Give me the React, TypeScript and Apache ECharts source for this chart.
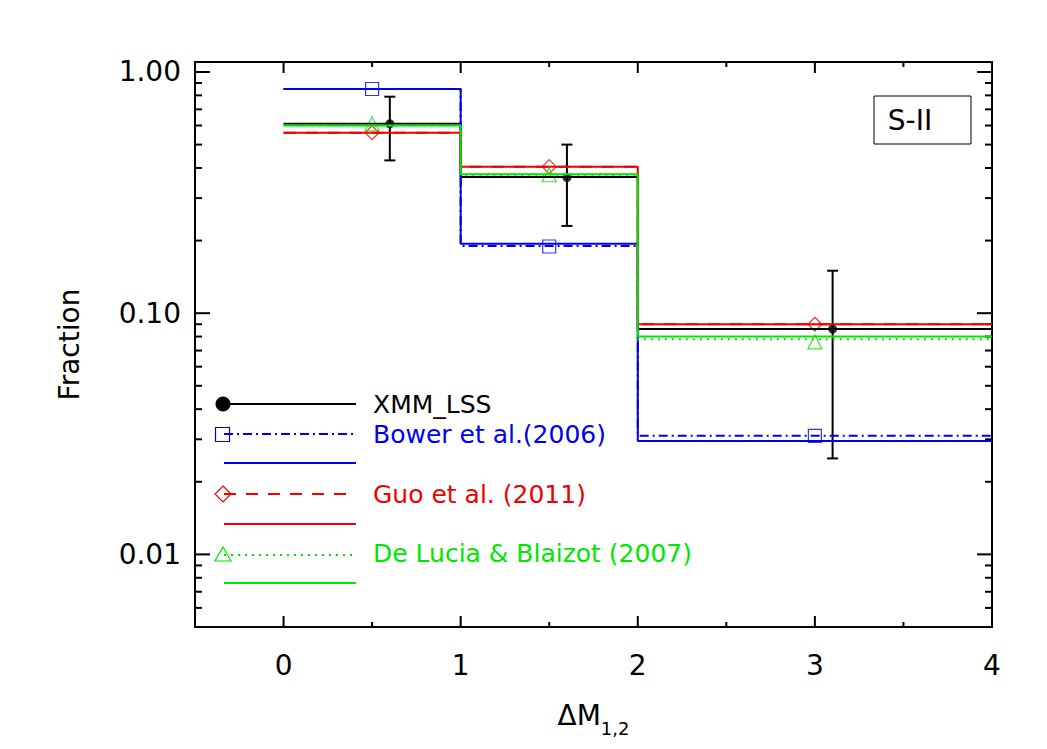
import React, { useEffect, useRef } from 'react';
import * as echarts from 'echarts';

const FONT = '"DejaVu Sans", "Liberation Sans", sans-serif';

// Bin edges of the histograms (ΔM_1,2)
const binEdges = [0, 1, 2, 4];

// Histogram fractions per bin
const xmmFraction = [0.61, 0.367, 0.086];
const bowerSolid = [0.85, 0.194, 0.0295];
const bowerDashDot = [0.85, 0.19, 0.031];
const guoSolid = [0.56, 0.405, 0.09];
const guoDashed = [0.56, 0.405, 0.09];
const deLuciaSolid = [0.6, 0.377, 0.08];
const deLuciaDotted = [0.6, 0.375, 0.078];

// Model symbols (bin centres)
const modelX = [0.5, 1.5, 3.0];
const bowerPoints = [0.85, 0.189, 0.031];
const guoPoints = [0.56, 0.405, 0.09];
const deLuciaPoints = [0.61, 0.375, 0.076];

// XMM-LSS data points with error bars
const xmmX = [0.6, 1.6, 3.1];
const xmmY = [0.61, 0.365, 0.086];
const xmmLow = [0.43, 0.23, 0.025];
const xmmHigh = [0.79, 0.5, 0.15];

// Axis ticks
const xTickLabels = [0, 1, 2, 3, 4];
const xMajorTicks = [0, 1, 2, 3];
const xMinorTicks = [0.5, 1.5, 2.5, 3.5];
const yTickLabels = [0.01, 0.1, 1];
const yMajorTicks = [0.01, 0.1, 1];
const yMinorTicks = [
  0.006, 0.007, 0.008, 0.009,
  0.02, 0.03, 0.04, 0.05, 0.06, 0.07, 0.08, 0.09,
  0.2, 0.3, 0.4, 0.5, 0.6, 0.7, 0.8, 0.9,
];

const BLACK = '#000000';
const BLUE = '#0000f0';
const RED = '#f00000';
const GREEN = '#00e600';

function stepData(values: number[]) {
  const pts = values.map((v, i) => [binEdges[i], v]);
  pts.push([binEdges[binEdges.length - 1], values[values.length - 1]]);
  return pts;
}

function stepSeries(values: number[], color: string, type: any) {
  return {
    type: 'line',
    step: 'end',
    data: stepData(values),
    showSymbol: false,
    silent: true,
    lineStyle: { color, width: 2, type },
    emphasis: { disabled: true },
  };
}

function xTickSeries(values: number[], len: number) {
  return {
    type: 'custom',
    silent: true,
    data: values.map((v) => [v, 0.1]),
    renderItem: (params: any, api: any) => {
      const cs = params.coordSys;
      const px = api.coord([api.value(0), 0.1])[0];
      const bottom = cs.y + cs.height;
      return {
        type: 'group',
        children: [
          { type: 'line', shape: { x1: px, y1: bottom, x2: px, y2: bottom - len }, style: { stroke: BLACK, lineWidth: 2 } },
          { type: 'line', shape: { x1: px, y1: cs.y, x2: px, y2: cs.y + len }, style: { stroke: BLACK, lineWidth: 2 } },
        ],
      };
    },
  };
}

function yTickSeries(values: number[], len: number) {
  return {
    type: 'custom',
    silent: true,
    data: values.map((v) => [1, v]),
    renderItem: (params: any, api: any) => {
      const cs = params.coordSys;
      const py = api.coord([1, api.value(1)])[1];
      const right = cs.x + cs.width;
      return {
        type: 'group',
        children: [
          { type: 'line', shape: { x1: cs.x, y1: py, x2: cs.x + len, y2: py }, style: { stroke: BLACK, lineWidth: 2 } },
          { type: 'line', shape: { x1: right, y1: py, x2: right - len, y2: py }, style: { stroke: BLACK, lineWidth: 2 } },
        ],
      };
    },
  };
}

function markerSeries(ys: number[], symbol: string, color: string, size: number) {
  return {
    type: 'scatter',
    silent: true,
    symbol,
    symbolSize: size,
    data: modelX.map((x, i) => [x, ys[i]]),
    itemStyle: { color: 'transparent', borderColor: color, borderWidth: 1.2 },
    emphasis: { disabled: true },
  };
}

const legendText = (x: number, y: number, text: string, color: string) => ({
  type: 'text',
  x,
  y,
  style: { text, fill: color, fontSize: 25, fontFamily: FONT, align: 'left', verticalAlign: 'middle' },
});

const hline = (x1: number, x2: number, y: number, color: string, lineDash?: number[]) => ({
  type: 'line',
  shape: { x1, y1: y, x2, y2: y },
  style: { stroke: color, lineWidth: 2, lineDash: lineDash || null },
});

export default function App() {
  const ref = useRef<HTMLDivElement>(null);

  useEffect(() => {
    const chart = echarts.init(ref.current!, null, { renderer: 'svg' });
    const option: any = {
      animation: false,
      backgroundColor: '#ffffff',
      grid: {
        left: 195,
        right: 55,
        top: 62,
        bottom: 122,
        show: true,
        borderColor: BLACK,
        borderWidth: 2,
        backgroundColor: 'transparent',
      },
      xAxis: {
        type: 'value',
        min: -0.5,
        max: 4,
        interval: 0.5,
        axisLine: { show: false },
        axisTick: { show: false },
        splitLine: { show: false },
        axisLabel: {
          margin: 24,
          fontSize: 28,
          fontFamily: FONT,
          color: BLACK,
          formatter: (v: number) => {
            const t = xTickLabels.find((k) => Math.abs(k - v) < 1e-9);
            return t === undefined ? '' : String(t);
          },
        },
        name: '{a|ΔM}{b|1,2}',
        nameLocation: 'middle',
        nameGap: 74,
        nameTextStyle: {
          color: BLACK,
          fontFamily: FONT,
          rich: {
            a: { fontSize: 28, fontFamily: FONT, color: BLACK, padding: [0, 0, 8, 0], verticalAlign: 'bottom' },
            b: { fontSize: 18, fontFamily: FONT, color: BLACK, verticalAlign: 'bottom' },
          },
        },
      },
      yAxis: {
        type: 'log',
        logBase: 10,
        min: 0.005,
        max: 1.1,
        axisLine: { show: false },
        axisTick: { show: false },
        splitLine: { show: false },
        minorTick: { show: false },
        axisLabel: {
          margin: 14,
          fontSize: 28,
          fontFamily: FONT,
          color: BLACK,
          formatter: (v: number) => {
            const t = yTickLabels.find((k) => Math.abs(v / k - 1) < 1e-6);
            return t === undefined ? '' : t.toFixed(2);
          },
        },
        name: 'Fraction',
        nameLocation: 'middle',
        nameGap: 112,
        nameTextStyle: { fontSize: 28, fontFamily: FONT, color: BLACK },
      },
      graphic: [
        // S-II label box
        {
          type: 'rect',
          shape: { x: 874, y: 96, width: 97, height: 48 },
          style: { fill: 'transparent', stroke: BLACK, lineWidth: 1 },
        },
        {
          type: 'text',
          x: 910,
          y: 120,
          style: { text: 'S-II', fill: BLACK, fontSize: 28, fontFamily: FONT, align: 'center', verticalAlign: 'middle' },
        },
        // Legend: XMM_LSS
        { type: 'circle', shape: { cx: 223, cy: 404, r: 7.5 }, style: { fill: BLACK } },
        hline(223, 356, 404, BLACK),
        legendText(373, 404, 'XMM_LSS', BLACK),
        // Legend: Bower
        { type: 'rect', shape: { x: 215.5, y: 427.5, width: 14, height: 14 }, style: { fill: 'transparent', stroke: BLUE, lineWidth: 1.2 } },
        hline(224, 356, 434, BLUE, [9, 4, 2, 4]),
        hline(224, 356, 463, BLUE),
        legendText(373, 434, 'Bower et al.(2006)', BLUE),
        // Legend: Guo
        {
          type: 'polygon',
          shape: { points: [[223, 486], [231, 494], [223, 502], [215, 494]] },
          style: { fill: 'transparent', stroke: RED, lineWidth: 1.2 },
        },
        hline(224, 350, 494, RED, [12, 10]),
        hline(224, 356, 524, RED),
        legendText(373, 494, 'Guo et al. (2011)', RED),
        // Legend: De Lucia
        {
          type: 'polygon',
          shape: { points: [[223, 547], [231, 561], [215, 561]] },
          style: { fill: 'transparent', stroke: GREEN, lineWidth: 1.2 },
        },
        hline(224, 356, 555, GREEN, [2, 5]),
        hline(224, 356, 583, GREEN),
        legendText(373, 553, 'De Lucia & Blaizot (2007)', GREEN),
      ],
      series: [
        xTickSeries(xMajorTicks, 11),
        xTickSeries(xMinorTicks, 5),
        yTickSeries(yMajorTicks, 15),
        yTickSeries(yMinorTicks, 7),
        stepSeries(xmmFraction, BLACK, 'solid'),
        stepSeries(bowerSolid, BLUE, 'solid'),
        stepSeries(bowerDashDot, BLUE, [9, 4, 2, 4]),
        stepSeries(guoSolid, RED, 'solid'),
        stepSeries(guoDashed, RED, [12, 10]),
        stepSeries(deLuciaSolid, GREEN, 'solid'),
        stepSeries(deLuciaDotted, GREEN, [2, 5]),
        markerSeries(bowerPoints, 'rect', BLUE, 13),
        markerSeries(guoPoints, 'diamond', RED, 14),
        markerSeries(deLuciaPoints, 'triangle', GREEN, 14),
        {
          type: 'custom',
          silent: true,
          data: xmmX.map((x, i) => [x, xmmLow[i], xmmHigh[i]]),
          encode: { x: 0, y: [1, 2] },
          renderItem: (params: any, api: any) => {
            const lo = api.coord([api.value(0), api.value(1)]);
            const hi = api.coord([api.value(0), api.value(2)]);
            const cap = 5.5;
            const st = { stroke: BLACK, lineWidth: 2 };
            return {
              type: 'group',
              children: [
                { type: 'line', shape: { x1: lo[0], y1: lo[1], x2: hi[0], y2: hi[1] }, style: st },
                { type: 'line', shape: { x1: hi[0] - cap, y1: hi[1], x2: hi[0] + cap, y2: hi[1] }, style: st },
                { type: 'line', shape: { x1: lo[0] - cap, y1: lo[1], x2: lo[0] + cap, y2: lo[1] }, style: st },
              ],
            };
          },
        },
        {
          type: 'scatter',
          silent: true,
          symbol: 'circle',
          symbolSize: 9,
          data: xmmX.map((x, i) => [x, xmmY[i]]),
          itemStyle: { color: BLACK },
          emphasis: { disabled: true },
        },
      ],
    };
    chart.setOption(option);
    return () => chart.dispose();
  }, []);

  return (
    <div
      ref={ref}
      style={{ position: 'absolute', left: 0, top: 0, width: 1047, height: 749, background: '#ffffff' }}
    />
  );
}
